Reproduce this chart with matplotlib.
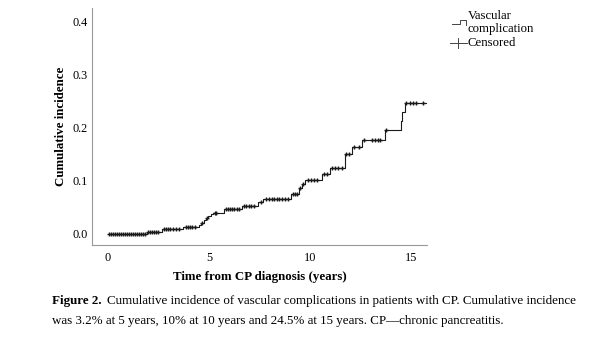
import numpy as np
import matplotlib.pyplot as plt
from matplotlib.lines import Line2D

# step data (event time, cumulative incidence after the event)
event_t = [0.0, 1.92, 2.66, 3.7, 4.5, 4.6, 4.75, 4.85, 4.95, 5.1, 5.2, 5.75, 6.65, 7.45, 7.65,
           9.05, 9.45, 9.58, 9.75, 10.6, 11.0, 11.75, 12.08, 12.58, 13.7, 14.48, 14.55, 14.68]
event_y = [0.0, 0.004, 0.008, 0.012, 0.016, 0.021, 0.025, 0.029, 0.033, 0.037, 0.040, 0.047, 0.053,
           0.060, 0.066, 0.075, 0.086, 0.094, 0.102, 0.113, 0.124, 0.150, 0.164, 0.177, 0.195,
           0.212, 0.229, 0.246]
t_end = 15.78

censored = [0.05, 0.15, 0.25, 0.35, 0.45, 0.55, 0.65, 0.75, 0.85, 0.95, 1.05, 1.15, 1.25, 1.35,
            1.45, 1.55, 1.65, 1.75, 1.85, 2.0, 2.1, 2.2, 2.3, 2.4, 2.5, 2.75, 2.85, 2.95, 3.05,
            3.2, 3.35, 3.5, 3.85, 3.95, 4.05, 4.15, 4.3, 4.65, 4.9, 5.3, 5.35, 5.85, 5.95, 6.05,
            6.15, 6.25, 6.4, 6.5, 6.75, 6.85, 7.0, 7.1, 7.25, 7.55, 7.8, 7.95, 8.1, 8.2, 8.35,
            8.45, 8.6, 8.75, 8.9, 9.15, 9.25, 9.35, 9.5, 9.65, 9.9, 10.05, 10.2, 10.35, 10.7,
            10.85, 11.1, 11.25, 11.4, 11.6, 11.8, 11.95, 12.2, 12.4, 12.65, 13.05, 13.2, 13.35,
            13.45, 13.75, 14.75, 14.95, 15.1, 15.25, 15.6]

x_ticks = [0, 5, 10, 15]
y_ticks = [0.0, 0.1, 0.2, 0.3, 0.4]

plt.rcParams['font.family'] = ['Liberation Serif', 'DejaVu Serif']

fig = plt.figure(figsize=(6, 3.42), dpi=100)
ax = fig.add_axes([0.153, 0.284, 0.559, 0.693])

xs = event_t + [t_end]
ys = event_y + [event_y[-1]]
ax.step(xs, ys, where='post', color='#1a1a1a', lw=0.8)

# censor marks sit on the curve
idx = np.searchsorted(event_t, censored, side='right') - 1
cy = np.array(event_y)[idx]
ax.plot(censored, cy, ls='none', marker='+', ms=2.8, mew=1.0, color='#1a1a1a')

ax.set_xlim(-0.8, 15.8)
ax.set_ylim(-0.021, 0.426)
ax.set_xticks(x_ticks)
ax.set_xticklabels([str(v) for v in x_ticks])
ax.set_yticks(y_ticks)
ax.set_yticklabels([f"{v:.1f}" for v in y_ticks])
ax.tick_params(length=0, labelsize=8.8)
ax.tick_params(axis='y', pad=3)
ax.tick_params(axis='x', pad=5)
for sp_name in ['top', 'right']:
    ax.spines[sp_name].set_visible(False)
for sp_name in ['left', 'bottom']:
    ax.spines[sp_name].set_color('#999999')
    ax.spines[sp_name].set_linewidth(0.8)

ax.set_xlabel('Time from CP diagnosis (years)', fontsize=9.3, fontweight='bold', labelpad=5)
ax.set_ylabel('Cumulative incidence', fontsize=9.3, fontweight='bold', labelpad=4)

# legend drawn by hand
W, H = 600, 342
def fx(px):
    return px / W
def fy(py):
    return 1 - py / H

fig.add_artist(Line2D([fx(452), fx(460), fx(460), fx(466), fx(466)],
                      [fy(24), fy(24), fy(20), fy(20), fy(25)],
                      color='#444444', lw=0.7))
fig.text(fx(468), fy(16), 'Vascular', fontsize=9.2, va='center')
fig.text(fx(468), fy(29), 'complication', fontsize=9.2, va='center')
fig.add_artist(Line2D([fx(450), fx(467)], [fy(43), fy(43)], color='#444444', lw=0.7))
fig.add_artist(Line2D([fx(458), fx(458)], [fy(38), fy(48)], color='#444444', lw=0.7))
fig.text(fx(468), fy(43), 'Censored', fontsize=9.2, va='center')

# caption
cap = 9.4
fig.text(fx(52), fy(301), 'Figure 2.', fontsize=cap, fontweight='bold', va='center')
fig.text(fx(107), fy(301), 'Cumulative incidence of vascular complications in patients with CP. '
         'Cumulative incidence', fontsize=cap, va='center')
fig.text(fx(52), fy(321), 'was 3.2% at 5 years, 10% at 10 years and 24.5% at 15 years. '
         'CP\u2014chronic pancreatitis.', fontsize=cap, va='center')

fig.savefig('out.png', dpi=100)
